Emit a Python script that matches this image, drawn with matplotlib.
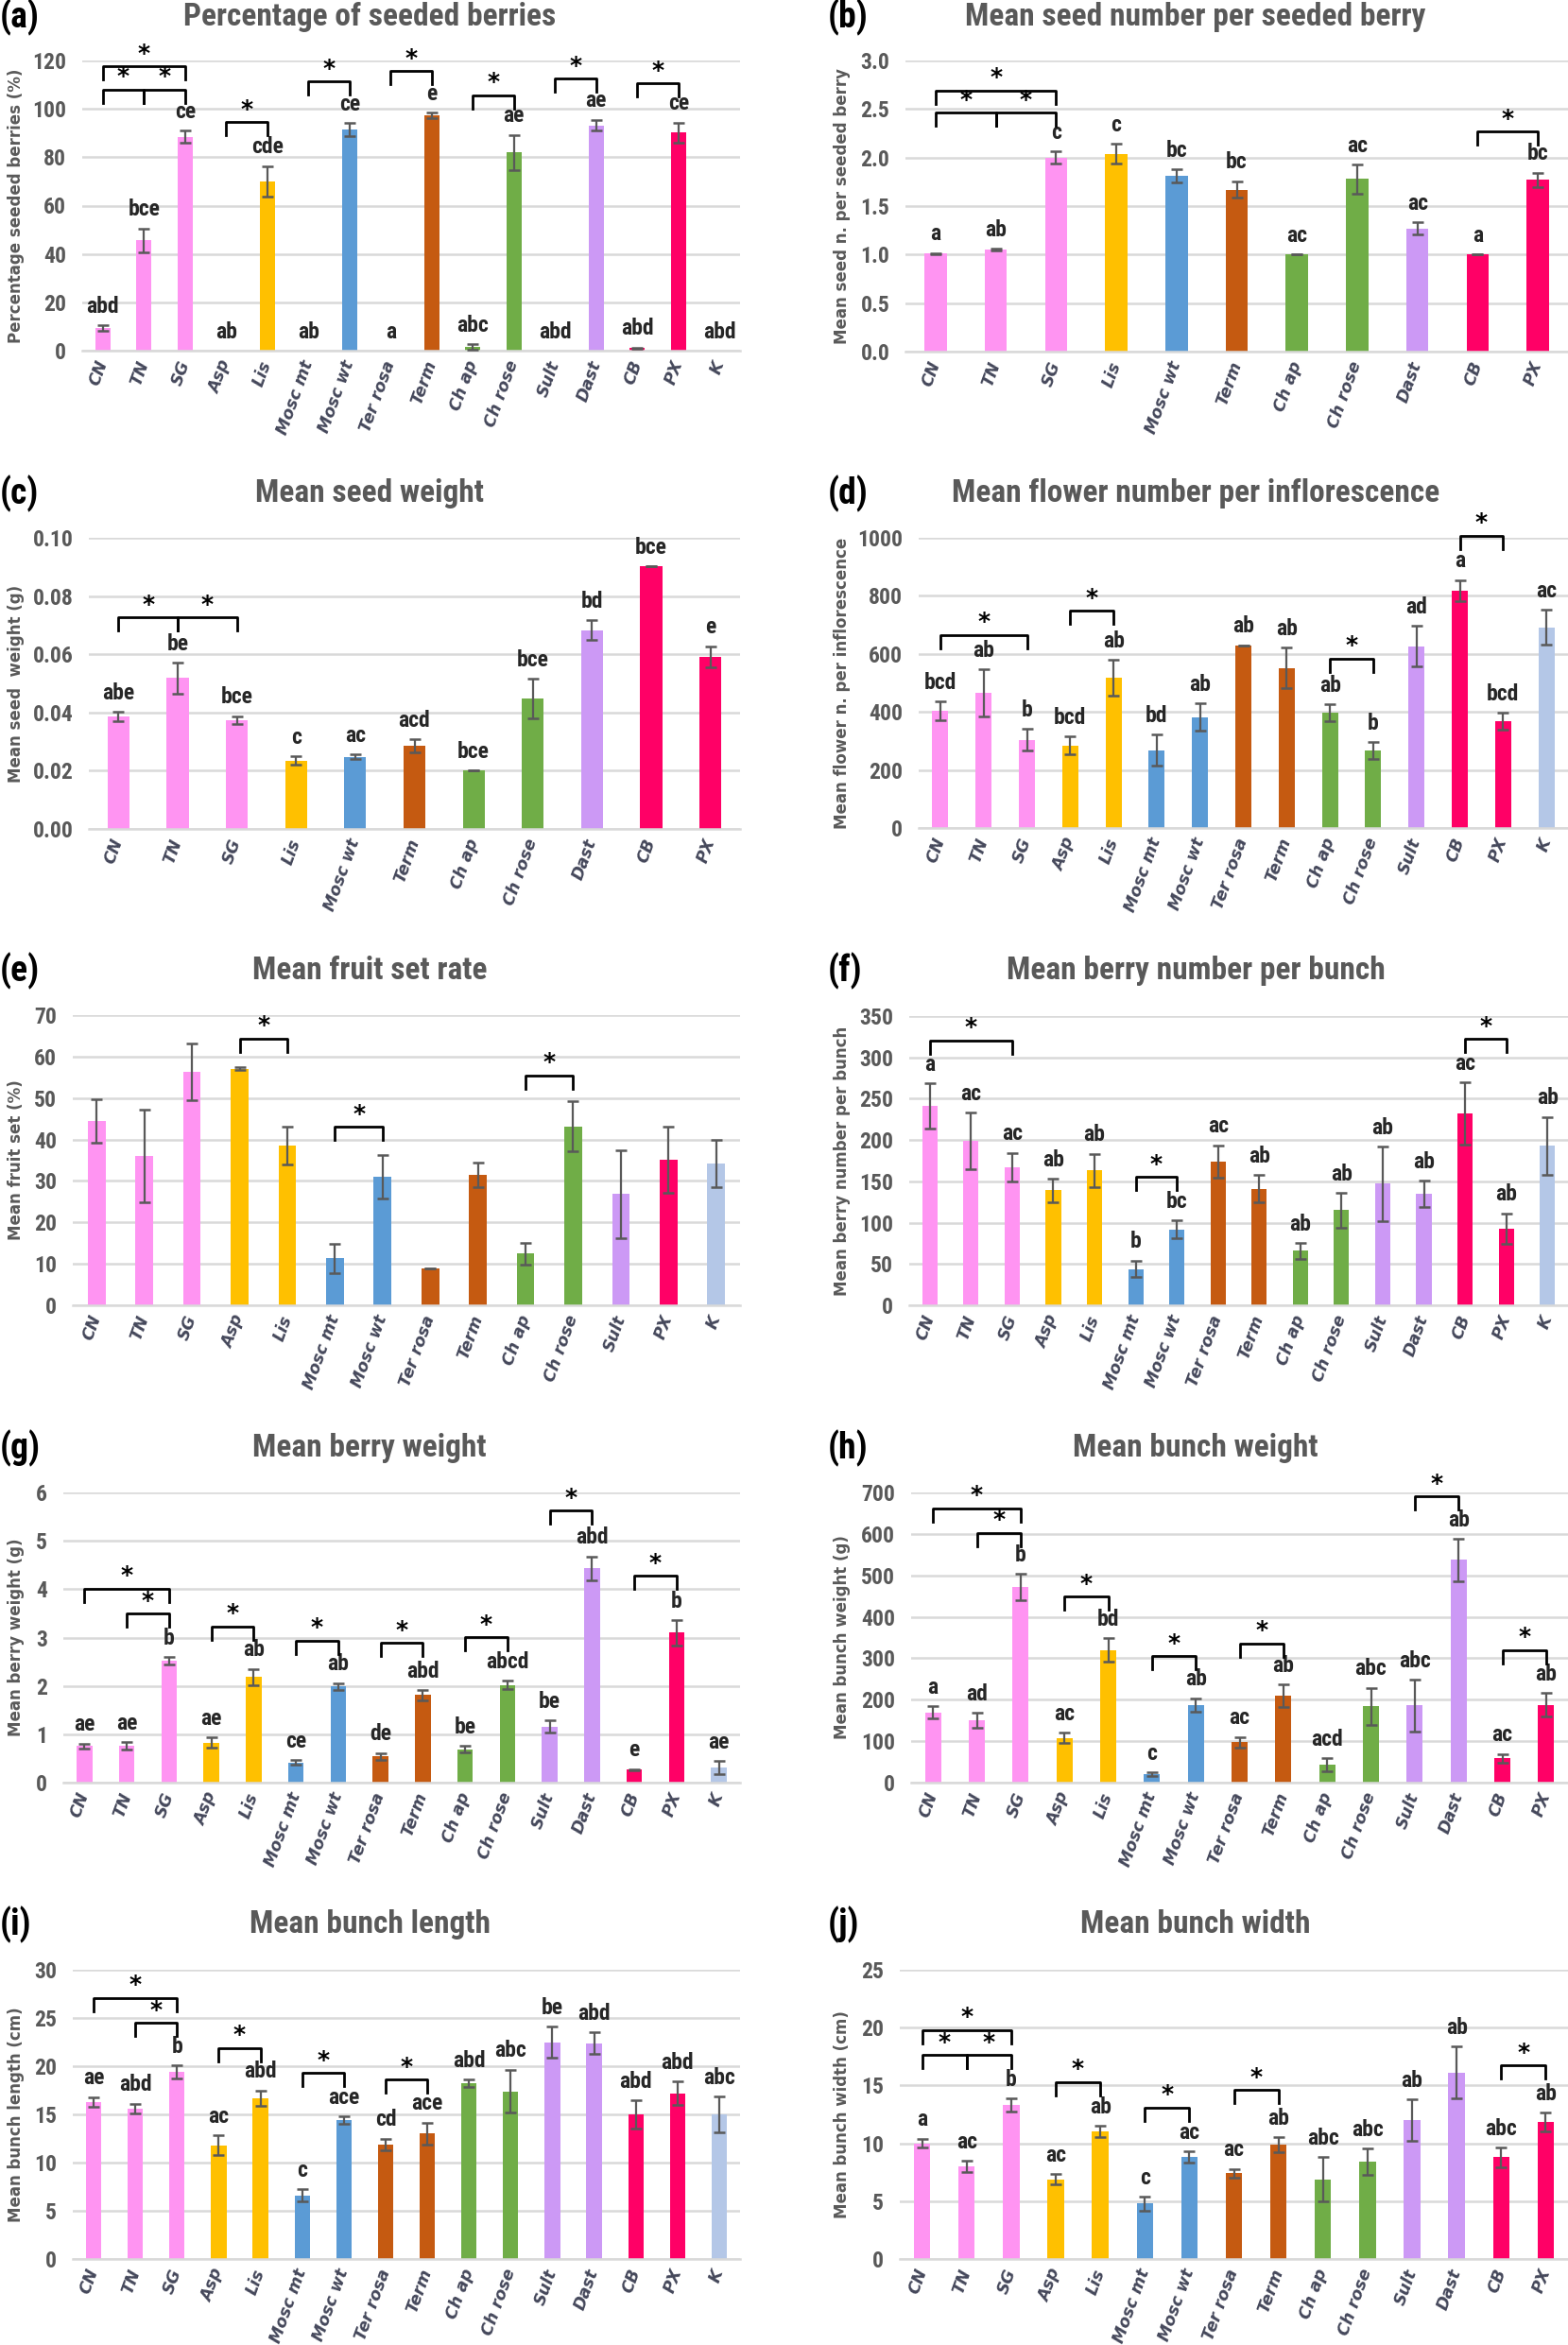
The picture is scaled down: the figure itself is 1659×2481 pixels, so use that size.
import numpy as np
import matplotlib
matplotlib.use("Agg")
import matplotlib.pyplot as plt
from matplotlib import font_manager

# ---------------- datos ----------------
ALL = ['CN', 'TN', 'SG', 'Asp', 'Lis', 'Mosc mt', 'Mosc wt', 'Ter rosa', 'Term',
       'Ch ap', 'Ch rose', 'Sult', 'Dast', 'CB', 'PX', 'K']
SIN_K = ALL[:-1]

# (a) porcentaje de bayas con semilla
seeded_pct = [9.4, 45.7, 88.4, 0, 70.0, 0, 91.5, 0, 97.3, 1.6, 82.0, 0, 93.2, 1.0, 90.2, 0]
seeded_pct_err = [1.2, 4.9, 2.5, 0, 6.3, 0, 2.7, 0, 1.1, 1.2, 7.2, 0, 2.3, 0.3, 4.1, 0]
letters_a = ['abd', 'bce', 'ce', 'ab', 'cde', 'ab', 'ce', 'a', 'e', 'abc', 'ae', 'abd', 'ae', 'abd', 'ce', 'abd']
brackets_a = [(0, 2, 117.5), (0, 1, 108), (1, 2, 108), (3, 4, 94.5), (5, 6, 111.3),
              (7, 8, 115.7), (9, 10, 105.6), (11, 12, 112.4), (13, 14, 110.6)]

# (b) numero de semillas por baya
cats_b = ['CN', 'TN', 'SG', 'Lis', 'Mosc wt', 'Term', 'Ch ap', 'Ch rose', 'Dast', 'CB', 'PX']
seed_num = [1.01, 1.05, 2.00, 2.04, 1.81, 1.67, 1.00, 1.78, 1.27, 1.00, 1.77]
seed_num_err = [0.005, 0.01, 0.065, 0.10, 0.07, 0.085, 0.0, 0.15, 0.06, 0.0, 0.075]
letters_b = ['a', 'ab', 'c', 'c', 'bc', 'bc', 'ac', 'ac', 'ac', 'a', 'bc']
brackets_b = [(0, 2, 2.69), (0, 1, 2.46), (1, 2, 2.46), (9, 10, 2.27)]

# (c) peso de semilla
cats_c = cats_b
seed_wt = [0.0387, 0.0518, 0.0374, 0.0235, 0.0247, 0.0286, 0.0200, 0.0448, 0.0683, 0.0901, 0.0592]
seed_wt_err = [0.0016, 0.0053, 0.0013, 0.0014, 0.0008, 0.0022, 0.0, 0.0068, 0.0033, 0.0, 0.0036]
letters_c = ['abe', 'be', 'bce', 'c', 'ac', 'acd', 'bce', 'bce', 'bd', 'bce', 'e']
brackets_c = [(0, 1, 0.0727), (1, 2, 0.0727)]

# (d) flores por inflorescencia
cats_d = ['CN', 'TN', 'SG', 'Asp', 'Lis', 'Mosc mt', 'Mosc wt', 'Ter rosa', 'Term',
          'Ch ap', 'Ch rose', 'Sult', 'CB', 'PX', 'K']
flowers = [403, 465, 304, 284, 517, 268, 382, 630, 552, 397, 267, 627, 818, 368, 691]
flowers_err = [32, 82, 38, 31, 62, 53, 48, 0, 69, 29, 28, 69, 37, 29, 60]
letters_d = ['bcd', 'ab', 'b', 'bcd', 'ab', 'bd', 'ab', 'ab', 'ab', 'ab', 'b', 'ad', 'a', 'bcd', 'ac']
brackets_d = [(0, 2, 666), (3, 4, 748), (9, 10, 584), (12, 13, 1007)]

# (e) cuajado
cats_e = ['CN', 'TN', 'SG', 'Asp', 'Lis', 'Mosc mt', 'Mosc wt', 'Ter rosa', 'Term',
          'Ch ap', 'Ch rose', 'Sult', 'PX', 'K']
fruit_set = [44.5, 36.0, 56.3, 57.1, 38.5, 11.3, 31.0, 9.0, 31.5, 12.5, 43.2, 26.8, 35.2, 34.2]
fruit_set_err = [5.2, 11.2, 6.9, 0.3, 4.5, 3.5, 5.2, 0, 2.9, 2.6, 6.0, 10.7, 8.0, 5.8]
brackets_e = [(3, 4, 64.4), (5, 6, 43.0), (9, 10, 55.5)]

# (f) bayas por racimo
berries = [241, 199, 167, 139, 163, 44, 92, 174, 141, 66, 115, 147, 135, 232, 93, 193]
berries_err = [27.5, 34, 17.5, 14, 20.5, 10, 10.5, 19.5, 16.5, 9.5, 21, 45, 15.5, 38, 18.5, 35]
letters_f = ['a', 'ac', 'ac', 'ab', 'ab', 'b', 'bc', 'ac', 'ab', 'ab', 'ab', 'ab', 'ab', 'ac', 'ab', 'ab']
brackets_f = [(0, 2, 320.6), (5, 6, 155), (13, 14, 322.5)]

# (g) peso de baya
berry_wt = [0.76, 0.76, 2.52, 0.83, 2.18, 0.42, 1.99, 0.54, 1.81, 0.69, 2.02, 1.16, 4.43, 0.27, 3.10, 0.31]
berry_wt_err = [0.05, 0.08, 0.07, 0.11, 0.17, 0.04, 0.07, 0.07, 0.10, 0.07, 0.09, 0.13, 0.25, 0.01, 0.26, 0.14]
letters_g = ['ae', 'ae', 'b', 'ae', 'ab', 'ce', 'ab', 'de', 'abd', 'be', 'abcd', 'be', 'abd', 'e', 'b', 'ae']
brackets_g = [(0, 2, 4.01), (1, 2, 3.49), (3, 4, 3.23), (5, 6, 2.94), (7, 8, 2.89),
              (9, 10, 3.01), (11, 12, 5.63), (13, 14, 4.28)]

# (h) peso de racimo
bunch_wt = [169, 150, 471, 108, 320, 21, 187, 97, 210, 43, 184, 186, 537, 59, 188]
bunch_wt_err = [15, 18, 32, 12, 29, 4, 17, 13, 27, 16, 45, 62, 51, 10, 28]
letters_h = ['a', 'ad', 'b', 'ac', 'bd', 'c', 'ab', 'ac', 'ab', 'acd', 'abc', 'abc', 'ab', 'ac', 'ab']
brackets_h = [(0, 2, 662), (1, 2, 603), (3, 4, 449), (5, 6, 305), (7, 8, 336), (11, 12, 691), (13, 14, 320)]

# (i) largo de racimo
bunch_len = [16.3, 15.6, 19.4, 11.8, 16.7, 6.6, 14.4, 11.9, 13.0, 18.2, 17.4, 22.5, 22.4, 15.0, 17.2, 15.0]
bunch_len_err = [0.5, 0.52, 0.65, 1.0, 0.8, 0.65, 0.4, 0.6, 1.15, 0.4, 2.25, 1.6, 1.1, 1.45, 1.2, 1.85]
letters_i = ['ae', 'abd', 'b', 'ac', 'abd', 'c', 'ace', 'cd', 'ace', 'abd', 'abc', 'be', 'abd', 'abd', 'abd', 'abc']
brackets_i = [(0, 2, 27.1), (1, 2, 24.5), (3, 4, 21.9), (5, 6, 19.3), (7, 8, 18.6)]

# (j) ancho de racimo
bunch_wid = [10.0, 8.0, 13.3, 6.9, 11.0, 4.8, 8.8, 7.4, 9.9, 6.9, 8.4, 12.0, 16.1, 8.8, 11.85]
bunch_wid_err = [0.4, 0.5, 0.55, 0.45, 0.5, 0.6, 0.5, 0.4, 0.63, 1.9, 1.15, 1.8, 2.25, 0.85, 0.8]
letters_j = ['a', 'ac', 'b', 'ac', 'ab', 'c', 'ac', 'ac', 'ab', 'abc', 'abc', 'ab', 'ab', 'abc', 'ab']
brackets_j = [(0, 2, 19.8), (0, 1, 17.65), (1, 2, 17.65), (3, 4, 15.3), (5, 6, 13.1), (7, 8, 14.6), (13, 14, 16.75)]

# ---------------- estilo ----------------
installed = {f.name for f in font_manager.fontManager.ttflist}
NARROW = next((f for f in ['Liberation Sans Narrow', 'Roboto Condensed', 'Roboto'] if f in installed), 'DejaVu Sans')

colores = {'CN': '#FF94F2', 'TN': '#FF94F2', 'SG': '#FF94F2',
           'Asp': '#FFC000', 'Lis': '#FFC000',
           'Mosc mt': '#5B9BD5', 'Mosc wt': '#5B9BD5',
           'Ter rosa': '#C55A11', 'Term': '#C55A11',
           'Ch ap': '#70AD47', 'Ch rose': '#70AD47',
           'Sult': '#CC99F5', 'Dast': '#CC99F5',
           'CB': '#FF0066', 'PX': '#FF0066', 'K': '#B4C7E7'}

GRIS = '#595959'
W, H = 1659, 2481
fig = plt.figure(figsize=(W / 100, H / 100), dpi=100)

paneles = [
    dict(tag='(a)', title='Percentage of seeded berries', ylabel='Percentage seeded berries (%)',
         cats=ALL, vals=seeded_pct, errs=seeded_pct_err, letters=letters_a, brackets=brackets_a,
         ticks=np.arange(0, 121, 20), fmt='{:.0f}', box=(87, 64, 783, 371), col=0, row=0),
    dict(tag='(b)', title='Mean seed number per seeded berry', ylabel='Mean seed n. per seeded berry',
         cats=cats_b, vals=seed_num, errs=seed_num_err, letters=letters_b, brackets=brackets_b,
         ticks=np.arange(0, 3.01, 0.5), fmt='{:.1f}', box=(958, 64, 1659, 372), col=1, row=0),
    dict(tag='(c)', title='Mean seed weight', ylabel='Mean seed  weight (g)',
         cats=cats_c, vals=seed_wt, errs=seed_wt_err, letters=letters_c, brackets=brackets_c,
         ticks=np.arange(0, 0.101, 0.02), fmt='{:.2f}', box=(94, 569, 783, 877), col=0, row=1),
    dict(tag='(d)', title='Mean flower number per inflorescence', ylabel='Mean flower n. per inflorescence',
         cats=cats_d, vals=flowers, errs=flowers_err, letters=letters_d, brackets=brackets_d,
         ticks=np.arange(0, 1001, 200), fmt='{:.0f}', box=(972, 569, 1659, 876), col=1, row=1),
    dict(tag='(e)', title='Mean fruit set rate', ylabel='Mean fruit set (%)',
         cats=cats_e, vals=fruit_set, errs=fruit_set_err, letters=None, brackets=brackets_e,
         ticks=np.arange(0, 71, 10), fmt='{:.0f}', box=(77, 1074, 783, 1381), col=0, row=2),
    dict(tag='(f)', title='Mean berry number per bunch', ylabel='Mean berry number per bunch',
         cats=ALL, vals=berries, errs=berries_err, letters=letters_f, brackets=brackets_f,
         ticks=np.arange(0, 351, 50), fmt='{:.0f}', box=(962, 1075, 1659, 1381), col=1, row=2),
    dict(tag='(g)', title='Mean berry weight', ylabel='Mean berry weight (g)',
         cats=ALL, vals=berry_wt, errs=berry_wt_err, letters=letters_g, brackets=brackets_g,
         ticks=np.arange(0, 7, 1), fmt='{:.0f}', box=(67, 1579, 783, 1886), col=0, row=3),
    dict(tag='(h)', title='Mean bunch weight', ylabel='Mean bunch weight (g)',
         cats=SIN_K, vals=bunch_wt, errs=bunch_wt_err, letters=letters_h, brackets=brackets_h,
         ticks=np.arange(0, 701, 100), fmt='{:.0f}', box=(964, 1579, 1659, 1886), col=1, row=3),
    dict(tag='(i)', title='Mean bunch length', ylabel='Mean bunch length (cm)',
         cats=ALL, vals=bunch_len, errs=bunch_len_err, letters=letters_i, brackets=brackets_i,
         ticks=np.arange(0, 31, 5), fmt='{:.0f}', box=(77, 2084, 783, 2390), col=0, row=4),
    dict(tag='(j)', title='Mean bunch width', ylabel='Mean bunch width (cm)',
         cats=SIN_K, vals=bunch_wid, errs=bunch_wid_err, letters=letters_j, brackets=brackets_j,
         ticks=np.arange(0, 26, 5), fmt='{:.0f}', box=(952, 2084, 1659, 2390), col=1, row=4),
]

title_y = [18, 522, 1027, 1532, 2036]
title_x = [391, 1265]
tag_x = [0, 876]
ylab_x = [17, 891]

for p in paneles:
    x0, y0, x1, y1 = p['box']
    ax = fig.add_axes([x0 / W, 1 - y1 / H, (x1 - x0) / W, (y1 - y0) / H])
    cats = p['cats']
    x = np.arange(len(cats))
    vals = np.array(p['vals'], dtype=float)
    errs = np.array(p['errs'], dtype=float)
    ymax = p['ticks'][-1]

    ax.bar(x, vals, width=0.37, color=[colores[c] for c in cats], zorder=2)
    m = vals > 0
    ax.errorbar(x[m], vals[m], yerr=errs[m], fmt='none', ecolor=GRIS, elinewidth=1.6,
                capsize=4, capthick=1.8, zorder=3)

    ax.set_xlim(-0.5, len(cats) - 0.5)
    ax.set_ylim(0, ymax)
    ax.set_yticks(p['ticks'])
    ax.set_yticklabels([p['fmt'].format(t) for t in p['ticks']], fontfamily=NARROW,
                       fontweight='bold', fontsize=17, color=GRIS)
    ax.yaxis.grid(True, color='#D9D9D9', lw=1.8)
    ax.set_axisbelow(True)
    for s in ['top', 'right', 'left']:
        ax.spines[s].set_visible(False)
    ax.spines['bottom'].set_color('#D9D9D9')
    ax.spines['bottom'].set_linewidth(1.8)
    ax.tick_params(length=0)
    ax.tick_params(axis='y', pad=12)
    ax.tick_params(axis='x', pad=8)
    ax.set_xticks(x)
    ax.set_xticklabels(cats, rotation=70, ha='right', va='center', rotation_mode='anchor',
                       fontstyle='italic', fontweight='bold', fontsize=12.5, color='#44475A')

    # letras de significancia
    if p['letters']:
        for xi, v, e, l in zip(x, vals, errs, p['letters']):
            ax.annotate(l, (xi, v + e), xytext=(0, 6), textcoords='offset points',
                        ha='center', va='bottom', fontfamily=NARROW, fontweight='bold',
                        fontsize=17, color='#262626')

    # corchetes con asterisco
    leg = 14 / (y1 - y0) * ymax
    for i, j, yb in p['brackets']:
        ax.plot([i, i, j, j], [yb - leg, yb, yb, yb - leg], color='black', lw=2,
                clip_on=False, zorder=4)
        ax.annotate('*', ((i + j) / 2, yb), xytext=(0, 1), textcoords='offset points',
                    ha='center', va='bottom', fontsize=18, fontweight='bold',
                    color='black', annotation_clip=False)

    c, r = p['col'], p['row']
    fig.text(title_x[c] / W, 1 - title_y[r] / H, p['title'], ha='center', va='center',
             fontfamily=NARROW, fontweight='bold', fontsize=24, color=GRIS)
    fig.text(tag_x[c] / W, 1 - title_y[r] / H, p['tag'], ha='left', va='center',
             fontfamily=NARROW, fontweight='bold', fontsize=27, color='black')
    fig.text(ylab_x[c] / W, 1 - ((y0 + y1) / 2) / H, p['ylabel'], ha='center', va='center',
             rotation=90, fontweight='bold', fontsize=12, color=GRIS)

fig.savefig('out.png', dpi=100)
